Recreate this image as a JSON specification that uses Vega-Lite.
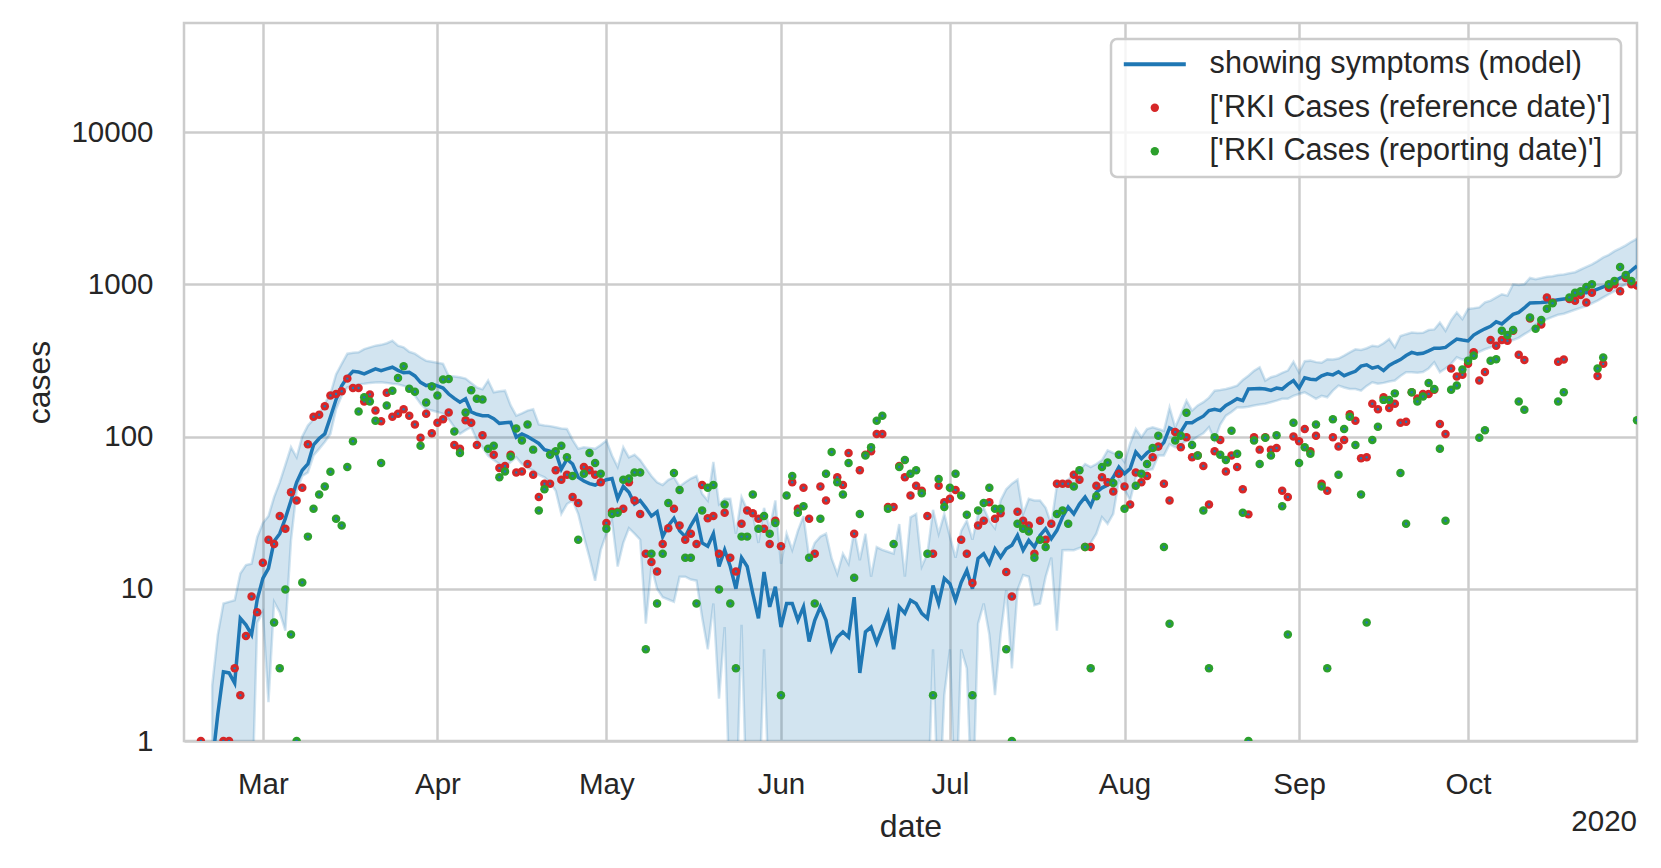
{
"$schema": "https://vega.github.io/schema/vega-lite/v6.json",
"width": 1453, "height": 718,
"autosize": {"type": "none"},
"padding": {"left": 184, "top": 23, "right": 24, "bottom": 127},
"background": "white",
"config": {
 "font": "Liberation Sans",
 "view": {"stroke": "#cccccc", "strokeWidth": 2.5},
 "axis": {"grid": true, "gridColor": "#cccccc", "gridWidth": 2.5, "domain": false, "ticks": false,
  "labelFont": "Liberation Sans", "labelFontSize": 29.5, "labelColor": "#262626",
  "titleFont": "Liberation Sans", "titleFontSize": 32, "titleColor": "#262626", "titleFontWeight": "normal"}
},
"datasets": {
"model": [
{"d":"2020-02-21","m":0.7,"lo":0.3,"hi":2.3},{"d":"2020-02-22","m":1.5,"lo":0.3,"hi":5},{"d":"2020-02-23","m":2.85,"lo":0.3,"hi":8},{"d":"2020-02-24","m":2.8,"lo":0.3,"hi":8.2},{"d":"2020-02-25","m":2.4,"lo":0.3,"hi":8.4},{"d":"2020-02-26","m":6.4,"lo":0.3,"hi":12.6},{"d":"2020-02-27","m":5.8,"lo":0.3,"hi":14.3},{"d":"2020-02-28","m":5.0,"lo":0.3,"hi":14.6},{"d":"2020-02-29","m":8.5,"lo":6,"hi":21.8},
{"d":"2020-03-01","m":11.7,"lo":7,"hi":27},{"d":"2020-03-02","m":13.6,"lo":1.8,"hi":30},{"d":"2020-03-03","m":20.5,"lo":8.2,"hi":40},{"d":"2020-03-04","m":23,"lo":7,"hi":50},{"d":"2020-03-05","m":29,"lo":5.3,"hi":65},{"d":"2020-03-06","m":38,"lo":20.8,"hi":85},{"d":"2020-03-07","m":50,"lo":44,"hi":73},{"d":"2020-03-08","m":60,"lo":55,"hi":100},{"d":"2020-03-09","m":66,"lo":58,"hi":118},{"d":"2020-03-10","m":88,"lo":75,"hi":130},{"d":"2020-03-11","m":97,"lo":83,"hi":140},{"d":"2020-03-12","m":104,"lo":92,"hi":165},{"d":"2020-03-13","m":134,"lo":104,"hi":190},{"d":"2020-03-14","m":175,"lo":151,"hi":256},{"d":"2020-03-15","m":215,"lo":185,"hi":300},{"d":"2020-03-16","m":245,"lo":210,"hi":350},{"d":"2020-03-17","m":268,"lo":215,"hi":355},{"d":"2020-03-18","m":265,"lo":220,"hi":357},{"d":"2020-03-19","m":258,"lo":222,"hi":375},{"d":"2020-03-20","m":268,"lo":225,"hi":385},{"d":"2020-03-21","m":278,"lo":226,"hi":395},{"d":"2020-03-22","m":271,"lo":227,"hi":400},{"d":"2020-03-23","m":278,"lo":225,"hi":410},{"d":"2020-03-24","m":285,"lo":222,"hi":426},{"d":"2020-03-25","m":272,"lo":220,"hi":395},{"d":"2020-03-26","m":262,"lo":215,"hi":385},{"d":"2020-03-27","m":264,"lo":210,"hi":360},{"d":"2020-03-28","m":250,"lo":185,"hi":350},{"d":"2020-03-29","m":227,"lo":164,"hi":330},{"d":"2020-03-30","m":216,"lo":151,"hi":314},{"d":"2020-03-31","m":221,"lo":148,"hi":310},
{"d":"2020-04-01","m":215,"lo":145,"hi":305},{"d":"2020-04-02","m":208,"lo":141,"hi":300},{"d":"2020-04-03","m":190,"lo":130,"hi":250},{"d":"2020-04-04","m":178,"lo":115,"hi":248},{"d":"2020-04-05","m":168,"lo":104,"hi":245},{"d":"2020-04-06","m":177,"lo":110,"hi":240},{"d":"2020-04-07","m":145,"lo":115,"hi":225},{"d":"2020-04-08","m":140,"lo":95,"hi":210},{"d":"2020-04-09","m":137,"lo":85,"hi":204},{"d":"2020-04-10","m":137,"lo":75,"hi":233},{"d":"2020-04-11","m":131,"lo":70,"hi":195},{"d":"2020-04-12","m":122,"lo":66,"hi":198},{"d":"2020-04-13","m":123,"lo":63,"hi":200},{"d":"2020-04-14","m":124,"lo":68,"hi":160},{"d":"2020-04-15","m":99,"lo":73,"hi":137},{"d":"2020-04-16","m":104,"lo":66,"hi":142},{"d":"2020-04-17","m":100,"lo":62,"hi":148},{"d":"2020-04-18","m":95,"lo":60,"hi":151},{"d":"2020-04-19","m":90,"lo":56,"hi":120},{"d":"2020-04-20","m":82,"lo":54,"hi":118},{"d":"2020-04-21","m":80,"lo":50,"hi":117},{"d":"2020-04-22","m":79,"lo":44,"hi":115},{"d":"2020-04-23","m":61,"lo":31,"hi":113},{"d":"2020-04-24","m":71,"lo":36,"hi":112},{"d":"2020-04-25","m":66,"lo":38,"hi":95},{"d":"2020-04-26","m":54,"lo":31,"hi":83},{"d":"2020-04-27","m":51,"lo":22,"hi":85},{"d":"2020-04-28","m":49,"lo":16,"hi":84},{"d":"2020-04-29","m":48,"lo":11.3,"hi":83},{"d":"2020-04-30","m":50,"lo":18,"hi":88},
{"d":"2020-05-01","m":52,"lo":23,"hi":94},{"d":"2020-05-02","m":53,"lo":28,"hi":75},{"d":"2020-05-03","m":39,"lo":14,"hi":63},{"d":"2020-05-04","m":47,"lo":20,"hi":85},{"d":"2020-05-05","m":43,"lo":25,"hi":73},{"d":"2020-05-06","m":36,"lo":23,"hi":76},{"d":"2020-05-07","m":38,"lo":21,"hi":70},{"d":"2020-05-08","m":34,"lo":5.9,"hi":62},{"d":"2020-05-09","m":30,"lo":14,"hi":55},{"d":"2020-05-10","m":32,"lo":10,"hi":50},{"d":"2020-05-11","m":22,"lo":8.8,"hi":48},{"d":"2020-05-12","m":26,"lo":8.5,"hi":52},{"d":"2020-05-13","m":29,"lo":8.2,"hi":54},{"d":"2020-05-14","m":24,"lo":12,"hi":47},{"d":"2020-05-15","m":22,"lo":12,"hi":50},{"d":"2020-05-16","m":26,"lo":11.5,"hi":53},{"d":"2020-05-17","m":30,"lo":11.3,"hi":55},{"d":"2020-05-18","m":20,"lo":6.5,"hi":42},{"d":"2020-05-19","m":19,"lo":4,"hi":38},{"d":"2020-05-20","m":23,"lo":8,"hi":68},{"d":"2020-05-21","m":14,"lo":1.9,"hi":36},{"d":"2020-05-22","m":18,"lo":5.6,"hi":39},{"d":"2020-05-23","m":14,"lo":0.3,"hi":39},{"d":"2020-05-24","m":10,"lo":0.3,"hi":23},{"d":"2020-05-25","m":16,"lo":5.8,"hi":40},{"d":"2020-05-26","m":14,"lo":0.3,"hi":33},{"d":"2020-05-27","m":9.3,"lo":0.3,"hi":31},{"d":"2020-05-28","m":6.4,"lo":0.3,"hi":20},{"d":"2020-05-29","m":12.9,"lo":4,"hi":34},{"d":"2020-05-30","m":7.6,"lo":0.3,"hi":25},{"d":"2020-05-31","m":10.3,"lo":0.3,"hi":38},
{"d":"2020-06-01","m":5.6,"lo":0.3,"hi":14.6},{"d":"2020-06-02","m":8,"lo":0.3,"hi":23},{"d":"2020-06-03","m":8,"lo":0.3,"hi":18},{"d":"2020-06-04","m":6.2,"lo":0.3,"hi":24},{"d":"2020-06-05","m":7.6,"lo":0.3,"hi":30},{"d":"2020-06-06","m":4.5,"lo":0.3,"hi":16},{"d":"2020-06-07","m":6.2,"lo":0.3,"hi":20},{"d":"2020-06-08","m":7.6,"lo":0.3,"hi":22},{"d":"2020-06-09","m":6.2,"lo":0.3,"hi":23},{"d":"2020-06-10","m":4,"lo":0.3,"hi":15.8},{"d":"2020-06-11","m":4.8,"lo":0.3,"hi":12.5},{"d":"2020-06-12","m":5.2,"lo":0.3,"hi":17},{"d":"2020-06-13","m":4.8,"lo":0.3,"hi":14.6},{"d":"2020-06-14","m":8.8,"lo":0.3,"hi":24},{"d":"2020-06-15","m":2.8,"lo":0.3,"hi":15.4},{"d":"2020-06-16","m":5.2,"lo":0.3,"hi":23},{"d":"2020-06-17","m":5.6,"lo":0.3,"hi":12},{"d":"2020-06-18","m":4.4,"lo":0.3,"hi":18.8},{"d":"2020-06-19","m":5.5,"lo":0.3,"hi":18},{"d":"2020-06-20","m":6.9,"lo":0.3,"hi":17.5},{"d":"2020-06-21","m":4,"lo":0.3,"hi":17},{"d":"2020-06-22","m":7.6,"lo":0.3,"hi":26.6},{"d":"2020-06-23","m":6.9,"lo":0.3,"hi":12},{"d":"2020-06-24","m":8.4,"lo":0.3,"hi":29.5},{"d":"2020-06-25","m":8,"lo":0.3,"hi":31},{"d":"2020-06-26","m":6.9,"lo":0.3,"hi":14},{"d":"2020-06-27","m":6.4,"lo":0.3,"hi":17},{"d":"2020-06-28","m":10.5,"lo":4,"hi":33},{"d":"2020-06-29","m":8,"lo":0.3,"hi":23},{"d":"2020-06-30","m":11.7,"lo":2,"hi":31},
{"d":"2020-07-01","m":10.8,"lo":4,"hi":22},{"d":"2020-07-02","m":8.4,"lo":0.3,"hi":16},{"d":"2020-07-03","m":11,"lo":4,"hi":24},{"d":"2020-07-04","m":13.2,"lo":3,"hi":28},{"d":"2020-07-05","m":10,"lo":0.3,"hi":21},{"d":"2020-07-06","m":15.8,"lo":5.9,"hi":31},{"d":"2020-07-07","m":17,"lo":8,"hi":34},{"d":"2020-07-08","m":14.6,"lo":5,"hi":28},{"d":"2020-07-09","m":18.3,"lo":2,"hi":25},{"d":"2020-07-10","m":16.1,"lo":5,"hi":38},{"d":"2020-07-11","m":18.3,"lo":9.8,"hi":45},{"d":"2020-07-12","m":19.3,"lo":3,"hi":49},{"d":"2020-07-13","m":22.4,"lo":9.8,"hi":52},{"d":"2020-07-14","m":17.9,"lo":12.3,"hi":31},{"d":"2020-07-15","m":20.8,"lo":12,"hi":39},{"d":"2020-07-16","m":18.8,"lo":7.8,"hi":38},{"d":"2020-07-17","m":22.4,"lo":8,"hi":38},{"d":"2020-07-18","m":24.8,"lo":12,"hi":34},{"d":"2020-07-19","m":21.3,"lo":16,"hi":26.6},{"d":"2020-07-20","m":24.2,"lo":5.3,"hi":48},{"d":"2020-07-21","m":29.6,"lo":17.9,"hi":50},{"d":"2020-07-22","m":34.4,"lo":18,"hi":52},{"d":"2020-07-23","m":31,"lo":17.9,"hi":57},{"d":"2020-07-24","m":36,"lo":18.5,"hi":60},{"d":"2020-07-25","m":40,"lo":18.8,"hi":66},{"d":"2020-07-26","m":35,"lo":20,"hi":63},{"d":"2020-07-27","m":43,"lo":23,"hi":66},{"d":"2020-07-28","m":46,"lo":29.5,"hi":70},{"d":"2020-07-29","m":48,"lo":26.7,"hi":81},{"d":"2020-07-30","m":54,"lo":31,"hi":78},{"d":"2020-07-31","m":63,"lo":51.5,"hi":77},
{"d":"2020-08-01","m":57,"lo":45,"hi":68},{"d":"2020-08-02","m":61.5,"lo":38,"hi":90},{"d":"2020-08-03","m":79,"lo":54,"hi":112},{"d":"2020-08-04","m":71.5,"lo":57,"hi":99},{"d":"2020-08-05","m":78,"lo":60,"hi":112},{"d":"2020-08-06","m":83,"lo":61,"hi":115},{"d":"2020-08-07","m":83,"lo":75,"hi":112},{"d":"2020-08-08","m":91.5,"lo":75,"hi":109},{"d":"2020-08-09","m":114,"lo":89,"hi":155},{"d":"2020-08-10","m":109,"lo":85,"hi":115},{"d":"2020-08-11","m":107,"lo":88,"hi":140},{"d":"2020-08-12","m":123,"lo":94,"hi":172},{"d":"2020-08-13","m":123,"lo":94,"hi":148},{"d":"2020-08-14","m":130,"lo":100,"hi":160},{"d":"2020-08-15","m":136,"lo":105,"hi":168},{"d":"2020-08-16","m":148,"lo":115,"hi":180},{"d":"2020-08-17","m":151,"lo":94,"hi":200},{"d":"2020-08-18","m":148,"lo":120,"hi":202},{"d":"2020-08-19","m":160,"lo":137,"hi":205},{"d":"2020-08-20","m":168,"lo":145,"hi":210},{"d":"2020-08-21","m":177,"lo":155,"hi":216},{"d":"2020-08-22","m":172,"lo":155,"hi":235},{"d":"2020-08-23","m":205,"lo":157,"hi":251},{"d":"2020-08-24","m":206,"lo":160,"hi":270},{"d":"2020-08-25","m":207,"lo":162,"hi":285},{"d":"2020-08-26","m":205,"lo":164,"hi":233},{"d":"2020-08-27","m":201,"lo":168,"hi":245},{"d":"2020-08-28","m":208,"lo":172,"hi":251},{"d":"2020-08-29","m":205,"lo":177,"hi":262},{"d":"2020-08-30","m":220,"lo":177,"hi":271},{"d":"2020-08-31","m":233,"lo":185,"hi":310},
{"d":"2020-09-01","m":208,"lo":190,"hi":263},{"d":"2020-09-02","m":243,"lo":195,"hi":312},{"d":"2020-09-03","m":238,"lo":186,"hi":315},{"d":"2020-09-04","m":236,"lo":177,"hi":308},{"d":"2020-09-05","m":250,"lo":185,"hi":305},{"d":"2020-09-06","m":258,"lo":181,"hi":322},{"d":"2020-09-07","m":254,"lo":200,"hi":320},{"d":"2020-09-08","m":266,"lo":216,"hi":325},{"d":"2020-09-09","m":251,"lo":210,"hi":340},{"d":"2020-09-10","m":260,"lo":205,"hi":357},{"d":"2020-09-11","m":268,"lo":205,"hi":374},{"d":"2020-09-12","m":290,"lo":200,"hi":370},{"d":"2020-09-13","m":296,"lo":215,"hi":380},{"d":"2020-09-14","m":281,"lo":227,"hi":395},{"d":"2020-09-15","m":288,"lo":222,"hi":390},{"d":"2020-09-16","m":271,"lo":225,"hi":410},{"d":"2020-09-17","m":293,"lo":230,"hi":437},{"d":"2020-09-18","m":307,"lo":233,"hi":385},{"d":"2020-09-19","m":320,"lo":250,"hi":457},{"d":"2020-09-20","m":340,"lo":264,"hi":470},{"d":"2020-09-21","m":357,"lo":264,"hi":482},{"d":"2020-09-22","m":349,"lo":262,"hi":478},{"d":"2020-09-23","m":352,"lo":265,"hi":480},{"d":"2020-09-24","m":365,"lo":280,"hi":500},{"d":"2020-09-25","m":380,"lo":307,"hi":505},{"d":"2020-09-26","m":380,"lo":264,"hi":560},{"d":"2020-09-27","m":385,"lo":280,"hi":495},{"d":"2020-09-28","m":410,"lo":300,"hi":580},{"d":"2020-09-29","m":437,"lo":331,"hi":653},{"d":"2020-09-30","m":430,"lo":320,"hi":590},
{"d":"2020-10-01","m":424,"lo":330,"hi":688},{"d":"2020-10-02","m":464,"lo":340,"hi":695},{"d":"2020-10-03","m":488,"lo":360,"hi":705},{"d":"2020-10-04","m":510,"lo":374,"hi":760},{"d":"2020-10-05","m":529,"lo":385,"hi":780},{"d":"2020-10-06","m":567,"lo":400,"hi":820},{"d":"2020-10-07","m":549,"lo":415,"hi":860},{"d":"2020-10-08","m":590,"lo":420,"hi":842},{"d":"2020-10-09","m":634,"lo":430,"hi":1000},{"d":"2020-10-10","m":653,"lo":445,"hi":990},{"d":"2020-10-11","m":700,"lo":470,"hi":1000},{"d":"2020-10-12","m":753,"lo":495,"hi":1100},{"d":"2020-10-13","m":757,"lo":545,"hi":1080},{"d":"2020-10-14","m":760,"lo":570,"hi":1100},{"d":"2020-10-15","m":765,"lo":590,"hi":1120},{"d":"2020-10-16","m":780,"lo":610,"hi":1130},{"d":"2020-10-17","m":790,"lo":630,"hi":1150},{"d":"2020-10-18","m":800,"lo":640,"hi":1160},{"d":"2020-10-19","m":810,"lo":660,"hi":1180},{"d":"2020-10-20","m":840,"lo":680,"hi":1200},{"d":"2020-10-21","m":880,"lo":700,"hi":1250},{"d":"2020-10-22","m":880,"lo":720,"hi":1300},{"d":"2020-10-23","m":900,"lo":750,"hi":1350},{"d":"2020-10-24","m":930,"lo":780,"hi":1420},{"d":"2020-10-25","m":960,"lo":820,"hi":1500},{"d":"2020-10-26","m":1000,"lo":860,"hi":1560},{"d":"2020-10-27","m":1050,"lo":900,"hi":1650},{"d":"2020-10-28","m":1100,"lo":950,"hi":1720},{"d":"2020-10-29","m":1150,"lo":1000,"hi":1800},{"d":"2020-10-30","m":1230,"lo":1050,"hi":1900},{"d":"2020-10-31","m":1320,"lo":1100,"hi":1990}
],
"ref": [
{"d":"2020-02-19","v":1},{"d":"2020-02-23","v":1},{"d":"2020-02-24","v":1},{"d":"2020-02-25","v":3},{"d":"2020-02-26","v":2},{"d":"2020-02-27","v":4.9},{"d":"2020-02-28","v":8.9},{"d":"2020-02-29","v":7},
{"d":"2020-03-01","v":14.8},{"d":"2020-03-02","v":21},{"d":"2020-03-03","v":19.7},{"d":"2020-03-04","v":30},{"d":"2020-03-05","v":24.8},{"d":"2020-03-06","v":43},{"d":"2020-03-07","v":38},{"d":"2020-03-08","v":46},{"d":"2020-03-09","v":89},{"d":"2020-03-10","v":135},{"d":"2020-03-11","v":139},{"d":"2020-03-12","v":158},{"d":"2020-03-13","v":186},{"d":"2020-03-14","v":190},{"d":"2020-03-15","v":198},{"d":"2020-03-16","v":240},{"d":"2020-03-17","v":208},{"d":"2020-03-18","v":208},{"d":"2020-03-19","v":170},{"d":"2020-03-20","v":189},{"d":"2020-03-21","v":148},{"d":"2020-03-22","v":126},{"d":"2020-03-23","v":194},{"d":"2020-03-24","v":135},{"d":"2020-03-25","v":141},{"d":"2020-03-26","v":151},{"d":"2020-03-27","v":137},{"d":"2020-03-28","v":120},{"d":"2020-03-29","v":98},{"d":"2020-03-30","v":141},{"d":"2020-03-31","v":105},
{"d":"2020-04-01","v":123},{"d":"2020-04-02","v":130},{"d":"2020-04-03","v":144},{"d":"2020-04-04","v":88},{"d":"2020-04-05","v":83},{"d":"2020-04-06","v":128},{"d":"2020-04-07","v":123},{"d":"2020-04-08","v":88},{"d":"2020-04-09","v":102},{"d":"2020-04-11","v":76},{"d":"2020-04-12","v":62},{"d":"2020-04-13","v":64},{"d":"2020-04-14","v":76},{"d":"2020-04-15","v":58},{"d":"2020-04-16","v":59},{"d":"2020-04-17","v":66},{"d":"2020-04-18","v":56},{"d":"2020-04-19","v":40},{"d":"2020-04-20","v":49},{"d":"2020-04-21","v":49},{"d":"2020-04-22","v":60},{"d":"2020-04-23","v":52},{"d":"2020-04-24","v":56},{"d":"2020-04-25","v":40},{"d":"2020-04-26","v":36.6},{"d":"2020-04-27","v":63},{"d":"2020-04-28","v":60},{"d":"2020-04-29","v":56},{"d":"2020-04-30","v":50},
{"d":"2020-05-01","v":27},{"d":"2020-05-02","v":32},{"d":"2020-05-03","v":32},{"d":"2020-05-04","v":33.5},{"d":"2020-05-05","v":50},{"d":"2020-05-06","v":38},{"d":"2020-05-07","v":31},{"d":"2020-05-08","v":17},{"d":"2020-05-09","v":15},{"d":"2020-05-10","v":13},{"d":"2020-05-11","v":19.7},{"d":"2020-05-12","v":25},{"d":"2020-05-13","v":33.5},{"d":"2020-05-14","v":26},{"d":"2020-05-15","v":21},{"d":"2020-05-16","v":23},{"d":"2020-05-17","v":19.7},{"d":"2020-05-18","v":48},{"d":"2020-05-19","v":29},{"d":"2020-05-20","v":30},{"d":"2020-05-21","v":17},{"d":"2020-05-22","v":31.6},{"d":"2020-05-23","v":16},{"d":"2020-05-24","v":13},{"d":"2020-05-25","v":26.7},{"d":"2020-05-26","v":32.6},{"d":"2020-05-27","v":31.3},{"d":"2020-05-28","v":28.8},{"d":"2020-05-29","v":24.8},{"d":"2020-05-30","v":19.7},{"d":"2020-05-31","v":28},
{"d":"2020-06-01","v":19},{"d":"2020-06-03","v":50},{"d":"2020-06-04","v":33.5},{"d":"2020-06-05","v":46},{"d":"2020-06-06","v":28.8},{"d":"2020-06-07","v":17},{"d":"2020-06-08","v":47},{"d":"2020-06-09","v":38},{"d":"2020-06-11","v":54},{"d":"2020-06-12","v":48},{"d":"2020-06-13","v":78},{"d":"2020-06-14","v":23},{"d":"2020-06-15","v":60},{"d":"2020-06-16","v":76},{"d":"2020-06-17","v":80},{"d":"2020-06-18","v":104},{"d":"2020-06-19","v":104},{"d":"2020-06-20","v":34.4},{"d":"2020-06-21","v":34.4},{"d":"2020-06-22","v":64},{"d":"2020-06-23","v":54},{"d":"2020-06-24","v":41},{"d":"2020-06-25","v":47.5},{"d":"2020-06-26","v":44},{"d":"2020-06-27","v":30},{"d":"2020-06-28","v":17},{"d":"2020-06-29","v":47.5},{"d":"2020-06-30","v":37},
{"d":"2020-07-01","v":39},{"d":"2020-07-02","v":44.6},{"d":"2020-07-03","v":21},{"d":"2020-07-04","v":17},{"d":"2020-07-05","v":10.9},{"d":"2020-07-06","v":26},{"d":"2020-07-07","v":28},{"d":"2020-07-08","v":37},{"d":"2020-07-09","v":28.8},{"d":"2020-07-10","v":31.3},{"d":"2020-07-11","v":12.9},{"d":"2020-07-12","v":8.9},{"d":"2020-07-13","v":32},{"d":"2020-07-14","v":28},{"d":"2020-07-15","v":26},{"d":"2020-07-16","v":17},{"d":"2020-07-17","v":28},{"d":"2020-07-18","v":21},{"d":"2020-07-19","v":26.7},{"d":"2020-07-20","v":49},{"d":"2020-07-21","v":49},{"d":"2020-07-22","v":49},{"d":"2020-07-23","v":56},{"d":"2020-07-24","v":52},{"d":"2020-07-25","v":18.8},{"d":"2020-07-26","v":18.8},{"d":"2020-07-27","v":47.5},{"d":"2020-07-28","v":54},{"d":"2020-07-29","v":50},{"d":"2020-07-30","v":43.5},{"d":"2020-07-31","v":57},
{"d":"2020-08-01","v":47},{"d":"2020-08-02","v":35.8},{"d":"2020-08-03","v":58},{"d":"2020-08-04","v":50},{"d":"2020-08-05","v":55},{"d":"2020-08-06","v":73},{"d":"2020-08-07","v":86},{"d":"2020-08-08","v":49},{"d":"2020-08-09","v":38},{"d":"2020-08-10","v":107},{"d":"2020-08-11","v":85},{"d":"2020-08-12","v":99},{"d":"2020-08-13","v":73},{"d":"2020-08-14","v":75},{"d":"2020-08-15","v":64},{"d":"2020-08-16","v":35.8},{"d":"2020-08-17","v":80},{"d":"2020-08-18","v":95},{"d":"2020-08-19","v":59},{"d":"2020-08-20","v":75},{"d":"2020-08-21","v":63},{"d":"2020-08-22","v":45},{"d":"2020-08-23","v":30.8},{"d":"2020-08-24","v":99},{"d":"2020-08-25","v":82},{"d":"2020-08-26","v":99},{"d":"2020-08-27","v":82},{"d":"2020-08-28","v":84},{"d":"2020-08-29","v":44},{"d":"2020-08-30","v":40},{"d":"2020-08-31","v":100},
{"d":"2020-09-01","v":93},{"d":"2020-09-02","v":112},{"d":"2020-09-03","v":80},{"d":"2020-09-04","v":101},{"d":"2020-09-05","v":49},{"d":"2020-09-06","v":44},{"d":"2020-09-07","v":99},{"d":"2020-09-08","v":86},{"d":"2020-09-09","v":95},{"d":"2020-09-10","v":140},{"d":"2020-09-11","v":127},{"d":"2020-09-12","v":72},{"d":"2020-09-13","v":73},{"d":"2020-09-14","v":164},{"d":"2020-09-15","v":151},{"d":"2020-09-16","v":181},{"d":"2020-09-17","v":154},{"d":"2020-09-18","v":164},{"d":"2020-09-19","v":123},{"d":"2020-09-20","v":125},{"d":"2020-09-21","v":195},{"d":"2020-09-22","v":178},{"d":"2020-09-23","v":190},{"d":"2020-09-24","v":190},{"d":"2020-09-25","v":203},{"d":"2020-09-26","v":121},{"d":"2020-09-27","v":104},{"d":"2020-09-28","v":280},{"d":"2020-09-29","v":248},{"d":"2020-09-30","v":254},
{"d":"2020-10-01","v":300},{"d":"2020-10-02","v":357},{"d":"2020-10-03","v":233},{"d":"2020-10-04","v":265},{"d":"2020-10-05","v":430},{"d":"2020-10-06","v":395},{"d":"2020-10-07","v":430},{"d":"2020-10-08","v":425},{"d":"2020-10-09","v":495},{"d":"2020-10-10","v":344},{"d":"2020-10-11","v":318},{"d":"2020-10-12","v":596},{"d":"2020-10-14","v":545},{"d":"2020-10-15","v":820},{"d":"2020-10-16","v":760},{"d":"2020-10-17","v":310},{"d":"2020-10-18","v":320},{"d":"2020-10-19","v":800},{"d":"2020-10-20","v":780},{"d":"2020-10-21","v":850},{"d":"2020-10-22","v":760},{"d":"2020-10-23","v":880},{"d":"2020-10-24","v":250},{"d":"2020-10-25","v":300},{"d":"2020-10-26","v":950},{"d":"2020-10-27","v":1000},{"d":"2020-10-28","v":900},{"d":"2020-10-29","v":1100},{"d":"2020-10-30","v":1000},{"d":"2020-10-31","v":980}
],
"rep": [
{"d":"2020-03-03","v":6},{"d":"2020-03-04","v":3},{"d":"2020-03-05","v":9.9},{"d":"2020-03-06","v":5},{"d":"2020-03-07","v":1},{"d":"2020-03-08","v":11},{"d":"2020-03-09","v":22},{"d":"2020-03-10","v":33.5},{"d":"2020-03-11","v":41.6},{"d":"2020-03-12","v":47},{"d":"2020-03-13","v":58.6},{"d":"2020-03-14","v":28.8},{"d":"2020-03-15","v":26},{"d":"2020-03-16","v":63},{"d":"2020-03-17","v":93},{"d":"2020-03-18","v":146},{"d":"2020-03-19","v":181},{"d":"2020-03-20","v":170},{"d":"2020-03-21","v":127},{"d":"2020-03-22","v":67},{"d":"2020-03-23","v":160},{"d":"2020-03-24","v":200},{"d":"2020-03-25","v":242},{"d":"2020-03-26","v":289},{"d":"2020-03-27","v":206},{"d":"2020-03-28","v":197},{"d":"2020-03-29","v":87},{"d":"2020-03-30","v":167},{"d":"2020-03-31","v":213},
{"d":"2020-04-01","v":186},{"d":"2020-04-02","v":237},{"d":"2020-04-03","v":239},{"d":"2020-04-04","v":108},{"d":"2020-04-05","v":78},{"d":"2020-04-06","v":144},{"d":"2020-04-07","v":201},{"d":"2020-04-08","v":177},{"d":"2020-04-09","v":175},{"d":"2020-04-10","v":83},{"d":"2020-04-11","v":87},{"d":"2020-04-12","v":54},{"d":"2020-04-13","v":59},{"d":"2020-04-14","v":74},{"d":"2020-04-15","v":113},{"d":"2020-04-16","v":94},{"d":"2020-04-17","v":120},{"d":"2020-04-18","v":82},{"d":"2020-04-19","v":32.6},{"d":"2020-04-20","v":45},{"d":"2020-04-21","v":76},{"d":"2020-04-22","v":80},{"d":"2020-04-23","v":87},{"d":"2020-04-24","v":73},{"d":"2020-04-25","v":55},{"d":"2020-04-26","v":21},{"d":"2020-04-27","v":57},{"d":"2020-04-28","v":78},{"d":"2020-04-29","v":67},{"d":"2020-04-30","v":57},
{"d":"2020-05-01","v":24.8},{"d":"2020-05-02","v":31},{"d":"2020-05-03","v":31.6},{"d":"2020-05-04","v":52},{"d":"2020-05-05","v":53},{"d":"2020-05-06","v":58},{"d":"2020-05-07","v":58},{"d":"2020-05-08","v":4},{"d":"2020-05-09","v":17},{"d":"2020-05-10","v":8},{"d":"2020-05-11","v":17},{"d":"2020-05-12","v":36.6},{"d":"2020-05-13","v":57.6},{"d":"2020-05-14","v":44.6},{"d":"2020-05-15","v":16},{"d":"2020-05-16","v":16},{"d":"2020-05-17","v":8},{"d":"2020-05-18","v":32.6},{"d":"2020-05-19","v":46},{"d":"2020-05-20","v":48},{"d":"2020-05-21","v":9.9},{"d":"2020-05-22","v":35.8},{"d":"2020-05-23","v":8},{"d":"2020-05-24","v":3},{"d":"2020-05-25","v":22},{"d":"2020-05-26","v":22},{"d":"2020-05-27","v":41.6},{"d":"2020-05-28","v":24.8},{"d":"2020-05-29","v":30},{"d":"2020-05-30","v":23},{"d":"2020-05-31","v":27},
{"d":"2020-06-01","v":2},{"d":"2020-06-02","v":41},{"d":"2020-06-03","v":55},{"d":"2020-06-04","v":31.6},{"d":"2020-06-05","v":34.8},{"d":"2020-06-06","v":16},{"d":"2020-06-07","v":8},{"d":"2020-06-08","v":28.8},{"d":"2020-06-09","v":57},{"d":"2020-06-10","v":79},{"d":"2020-06-11","v":50},{"d":"2020-06-12","v":41.6},{"d":"2020-06-13","v":67},{"d":"2020-06-14","v":11.8},{"d":"2020-06-15","v":31},{"d":"2020-06-16","v":75},{"d":"2020-06-17","v":85},{"d":"2020-06-18","v":127},{"d":"2020-06-19","v":137},{"d":"2020-06-20","v":33.5},{"d":"2020-06-21","v":19.7},{"d":"2020-06-22","v":63},{"d":"2020-06-23","v":70},{"d":"2020-06-24","v":57},{"d":"2020-06-25","v":60},{"d":"2020-06-26","v":42.4},{"d":"2020-06-27","v":17},{"d":"2020-06-28","v":2},{"d":"2020-06-29","v":52.6},{"d":"2020-06-30","v":34.4},
{"d":"2020-07-01","v":46},{"d":"2020-07-02","v":57},{"d":"2020-07-03","v":41},{"d":"2020-07-04","v":30.6},{"d":"2020-07-05","v":2},{"d":"2020-07-06","v":32.6},{"d":"2020-07-07","v":36.6},{"d":"2020-07-08","v":46},{"d":"2020-07-09","v":33.5},{"d":"2020-07-10","v":33.5},{"d":"2020-07-11","v":4},{"d":"2020-07-12","v":1},{"d":"2020-07-13","v":26.7},{"d":"2020-07-14","v":24.8},{"d":"2020-07-15","v":23.8},{"d":"2020-07-16","v":16},{"d":"2020-07-17","v":21},{"d":"2020-07-18","v":18.8},{"d":"2020-07-20","v":31},{"d":"2020-07-21","v":32.6},{"d":"2020-07-22","v":26.7},{"d":"2020-07-23","v":47},{"d":"2020-07-24","v":60},{"d":"2020-07-25","v":18.8},{"d":"2020-07-26","v":3},{"d":"2020-07-27","v":40.5},{"d":"2020-07-28","v":63},{"d":"2020-07-29","v":67.5},{"d":"2020-07-30","v":49.5},{"d":"2020-07-31","v":76},
{"d":"2020-08-01","v":33.5},{"d":"2020-08-03","v":47.5},{"d":"2020-08-04","v":57},{"d":"2020-08-05","v":66},{"d":"2020-08-06","v":84},{"d":"2020-08-07","v":101},{"d":"2020-08-08","v":18.8},{"d":"2020-08-09","v":5.9},{"d":"2020-08-10","v":94},{"d":"2020-08-11","v":101},{"d":"2020-08-12","v":143},{"d":"2020-08-13","v":88},{"d":"2020-08-14","v":75},{"d":"2020-08-15","v":32.6},{"d":"2020-08-16","v":3},{"d":"2020-08-17","v":99},{"d":"2020-08-18","v":76},{"d":"2020-08-19","v":70},{"d":"2020-08-20","v":109},{"d":"2020-08-21","v":77},{"d":"2020-08-22","v":31.6},{"d":"2020-08-23","v":1},{"d":"2020-08-24","v":94},{"d":"2020-08-25","v":66},{"d":"2020-08-26","v":98},{"d":"2020-08-27","v":75},{"d":"2020-08-28","v":102},{"d":"2020-08-29","v":34.8},{"d":"2020-08-30","v":5},{"d":"2020-08-31","v":123},
{"d":"2020-09-01","v":67},{"d":"2020-09-02","v":85},{"d":"2020-09-03","v":77},{"d":"2020-09-04","v":120},{"d":"2020-09-05","v":47},{"d":"2020-09-06","v":3},{"d":"2020-09-07","v":130},{"d":"2020-09-08","v":56},{"d":"2020-09-09","v":112},{"d":"2020-09-10","v":135},{"d":"2020-09-11","v":88},{"d":"2020-09-12","v":41.6},{"d":"2020-09-13","v":6},{"d":"2020-09-14","v":95},{"d":"2020-09-15","v":116},{"d":"2020-09-16","v":174},{"d":"2020-09-17","v":174},{"d":"2020-09-18","v":192},{"d":"2020-09-19","v":57.6},{"d":"2020-09-20","v":26.7},{"d":"2020-09-21","v":195},{"d":"2020-09-22","v":170},{"d":"2020-09-23","v":183},{"d":"2020-09-24","v":225},{"d":"2020-09-25","v":205},{"d":"2020-09-26","v":83},{"d":"2020-09-27","v":28},{"d":"2020-09-28","v":203},{"d":"2020-09-29","v":216},{"d":"2020-09-30","v":275},
{"d":"2020-10-01","v":314},{"d":"2020-10-02","v":339},{"d":"2020-10-03","v":98},{"d":"2020-10-04","v":110},{"d":"2020-10-05","v":314},{"d":"2020-10-06","v":322},{"d":"2020-10-07","v":495},{"d":"2020-10-08","v":465},{"d":"2020-10-09","v":500},{"d":"2020-10-10","v":170},{"d":"2020-10-11","v":150},{"d":"2020-10-12","v":604},{"d":"2020-10-13","v":510},{"d":"2020-10-14","v":583},{"d":"2020-10-15","v":690},{"d":"2020-10-16","v":750},{"d":"2020-10-17","v":170},{"d":"2020-10-18","v":195},{"d":"2020-10-19","v":820},{"d":"2020-10-20","v":880},{"d":"2020-10-21","v":900},{"d":"2020-10-22","v":960},{"d":"2020-10-23","v":1000},{"d":"2020-10-24","v":280},{"d":"2020-10-25","v":330},{"d":"2020-10-26","v":1000},{"d":"2020-10-27","v":1050},{"d":"2020-10-28","v":1300},{"d":"2020-10-29","v":1150},{"d":"2020-10-30","v":1050},{"d":"2020-10-31","v":128}
]
},
"layer": [
 {"data": {"name": "model"},
  "mark": {"type": "area", "clip": true, "color": "#1f77b4", "fillOpacity": 0.2, "stroke": "#1f77b4", "strokeOpacity": 0.2, "strokeWidth": 2.5},
  "encoding": {
   "x": {"field": "d", "type": "temporal",
    "scale": {"type": "utc", "domain": [{"year": 2020, "month": 2, "date": 16, "utc": true}, {"year": 2020, "month": 10, "date": 31, "utc": true}]},
    "axis": {"title": "date", "format": "%b", "labelPadding": 29, "titlePadding": 13, "labelFlush": false, "labelOverlap": false,
     "values": [{"year":2020,"month":3,"date":1,"utc":true},{"year":2020,"month":4,"date":1,"utc":true},{"year":2020,"month":5,"date":1,"utc":true},{"year":2020,"month":6,"date":1,"utc":true},{"year":2020,"month":7,"date":1,"utc":true},{"year":2020,"month":8,"date":1,"utc":true},{"year":2020,"month":9,"date":1,"utc":true},{"year":2020,"month":10,"date":1,"utc":true}]}},
   "y": {"field": "lo", "type": "quantitative",
    "scale": {"type": "log", "domain": [1, 52000], "nice": false},
    "axis": {"title": "cases", "values": [1, 10, 100, 1000, 10000], "format": "d", "labelPadding": 31, "titlePadding": 14}},
   "y2": {"field": "hi"}
  }},
 {"data": {"name": "model"},
  "mark": {"type": "line", "clip": true, "strokeWidth": 3.5},
  "encoding": {
   "x": {"field": "d", "type": "temporal"},
   "y": {"field": "m", "type": "quantitative"},
   "color": {"datum": "showing symptoms (model)",
    "scale": {"domain": ["showing symptoms (model)", "['RKI Cases (reference date)']", "['RKI Cases (reporting date)']"], "range": ["#1f77b4", "#d62728", "#2ca02c"]},
    "legend": {"title": null, "orient": "none", "legendX": 927, "legendY": 16,
     "labelFont": "Liberation Sans", "labelFontSize": 30.6, "labelColor": "#262626", "labelLimit": 700,
     "padding": 10, "rowPadding": 12.5, "symbolSize": 55, "symbolOffset": 18.5, "labelOffset": 39.5,
     "strokeColor": "#cccccc", "fillColor": "rgba(255,255,255,0.8)", "cornerRadius": 6,
     "encode": {
      "symbols": {"update": {
       "shape": {"signal": "datum.value === 'showing symptoms (model)' ? 'stroke' : 'circle'"},
       "size": {"signal": "datum.value === 'showing symptoms (model)' ? 3844 : 70"},
       "strokeWidth": {"signal": "datum.value === 'showing symptoms (model)' ? 4 : 0"},
       "stroke": {"scale": "color", "field": "value"},
       "fill": {"scale": "color", "field": "value"},
       "opacity": {"value": 1}, "fillOpacity": {"value": 1}, "strokeOpacity": {"value": 1}
      }},
      "legend": {"update": {"strokeWidth": {"value": 2.5}}}
     }}}
  }},
 {"data": {"name": "ref"},
  "mark": {"type": "point", "filled": true, "clip": true, "size": 72, "opacity": 1},
  "encoding": {
   "x": {"field": "d", "type": "temporal"},
   "y": {"field": "v", "type": "quantitative"},
   "color": {"datum": "['RKI Cases (reference date)']"}
  }},
 {"data": {"name": "ref"},
  "mark": {"type": "point", "filled": true, "clip": true, "size": 6, "opacity": 1, "color": "#1f77b4"},
  "encoding": {
   "x": {"field": "d", "type": "temporal"},
   "y": {"field": "v", "type": "quantitative"}
  }},
 {"data": {"name": "rep"},
  "mark": {"type": "point", "filled": true, "clip": true, "size": 72, "opacity": 1},
  "encoding": {
   "x": {"field": "d", "type": "temporal"},
   "y": {"field": "v", "type": "quantitative"},
   "color": {"datum": "['RKI Cases (reporting date)']"}
  }},
 {"data": {"name": "rep"},
  "mark": {"type": "point", "filled": true, "clip": true, "size": 6, "opacity": 1, "color": "#1f77b4"},
  "encoding": {
   "x": {"field": "d", "type": "temporal"},
   "y": {"field": "v", "type": "quantitative"}
  }},
 {"data": {"values": [{"label": "2020"}]},
  "mark": {"type": "text", "align": "right", "baseline": "alphabetic", "dy": 90, "fontSize": 29.5, "font": "Liberation Sans", "color": "#262626"},
  "encoding": {
   "x": {"datum": {"year": 2020, "month": 10, "date": 31, "utc": true}, "type": "temporal"},
   "y": {"datum": 1, "type": "quantitative"},
   "text": {"field": "label"}
  }}
]
}
